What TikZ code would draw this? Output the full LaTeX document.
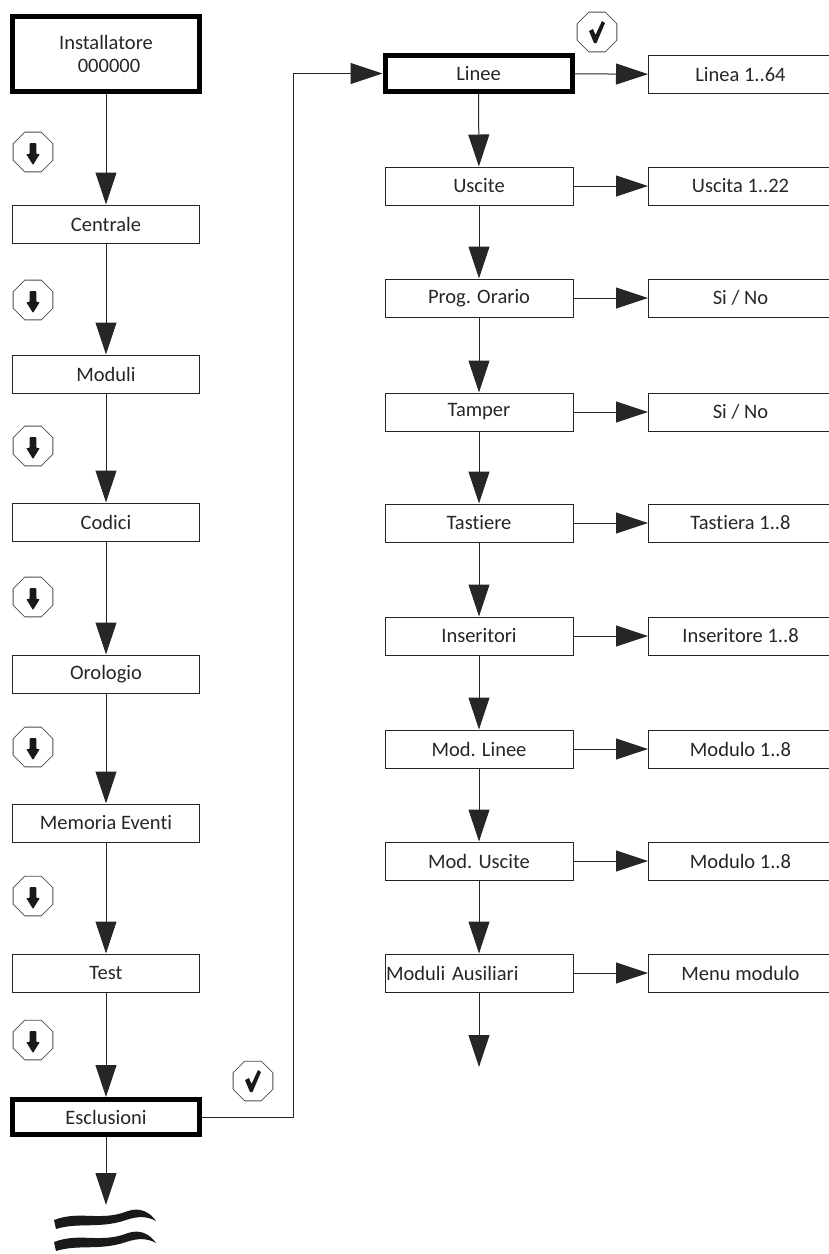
\documentclass[tikz,border=0pt]{standalone}
\usepackage{fontspec}
\setmainfont{Carlito}[Ligatures=NoCommon]
\usetikzlibrary{arrows.meta,shapes.geometric}

\tikzset{
  menu/.style={draw=black!85,line width=1pt,minimum width=187pt,minimum height=38pt,
    inner sep=0pt,text=black!85,font=\fontsize{20.5}{23}\selectfont},
  menusel/.style={menu,draw=black,line width=5pt,minimum height=36pt},
  leaf/.style={menu,minimum width=184pt,anchor=west},
  key/.style={draw=black!70,line width=0.8pt,regular polygon,regular polygon sides=8,
    minimum size=43pt,inner sep=0pt},
  flow/.style={line width=1pt,draw=black!85,-{Triangle[length=32pt,width=21pt]}},
}

% push-button symbols drawn inside a key node
\newcommand{\downglyph}[1]{%
  \fill[black!90,rounded corners=0.8pt,shift={(#1.center)}] (-3.3,-9) -- (3.3,-9) -- (3.3,2)
    -- (6.8,2) -- (0,13) -- (-6.8,2) -- (-3.3,2) -- cycle;}
\newcommand{\okglyph}[1]{%
  \fill[black!90,shift={(#1.center)}] (-8,-1) -- (-4,-3) -- (-1.5,3) -- (5,-11)
    -- (8,-9) -- (-0.5,11) -- (-3,11) -- cycle;}

\begin{document}
\begin{tikzpicture}[x=1pt,y=-1pt]
  \useasboundingbox (0,0) rectangle (828,1254);

  % main menu
  \node[menusel,minimum height=75pt,align=center] (inst) at (106,54) {Installatore\\ \hspace*{6pt}000000};
  \node[menu] (centrale) at (106,224) {Centrale};
  \node[menu] (moduli)   at (106,374) {Moduli};
  \node[menu] (codici)   at (106,522) {Codici};
  \node[menu] (orologio) at (106,674) {Orologio};
  \node[menu] (memoria)  at (106,823) {Memoria Eventi};
  \node[menu] (test)     at (106,973) {Test};
  \node[menusel,minimum height=35pt] (escl) at (106,1117) {Esclusioni};
  \coordinate (more) at (106,1205);

  \draw[flow] (inst) -- (centrale);
  \draw[flow] (centrale) -- (moduli);
  \draw[flow] (moduli) -- (codici);
  \draw[flow] (codici) -- (orologio);
  \draw[flow] (orologio) -- (memoria);
  \draw[flow] (memoria) -- (test);
  \draw[flow] (test) -- (escl);
  \draw[flow] (escl) -- (more);

  \node[key] (k1) at (33,152) {};  \downglyph{k1}
  \node[key] (k2) at (33,300) {};  \downglyph{k2}
  \node[key] (k3) at (33,446) {};  \downglyph{k3}
  \node[key] (k4) at (33,597) {};  \downglyph{k4}
  \node[key] (k5) at (33,747) {};  \downglyph{k5}
  \node[key] (k6) at (33,896) {};  \downglyph{k6}
  \node[key] (k7) at (33,1040) {}; \downglyph{k7}

  % continues below
  \fill[black!90] (54,1220) .. controls (80,1210) and (100,1222) .. (128,1211)
    .. controls (140,1207) and (150,1212) .. (156,1221)
    .. controls (147,1216) and (138,1216) .. (126,1220)
    .. controls (100,1229) and (78,1222) .. (56,1229) -- cycle;
  \fill[black!90] (54,1242) .. controls (80,1232) and (100,1244) .. (128,1233)
    .. controls (140,1229) and (150,1234) .. (156,1243)
    .. controls (147,1238) and (138,1238) .. (126,1242)
    .. controls (100,1251) and (78,1244) .. (56,1251) -- cycle;

  % Esclusioni submenu
  \node[menusel] (linee)     at (478.5,73.5) {Linee};
  \node[menu,minimum width=188pt] (uscite)    at (479,186) {Uscite};
  \node[menu,minimum width=188pt] (orario)    at (479,298) {Prog. Orario};
  \node[menu,minimum width=188pt] (tamper)    at (479,412) {Tamper};
  \node[menu,minimum width=188pt] (tastiere)  at (479,523) {Tastiere};
  \node[menu,minimum width=188pt] (insert)    at (479,636) {Inseritori};
  \node[menu,minimum width=188pt] (modlinee)  at (479,749) {Mod. Linee};
  \node[menu,minimum width=188pt] (moduscite) at (479,861) {Mod. Uscite};
  \node[menu,text width=186pt,align=left,inner xsep=1pt] (modaux) at (479,973) {Moduli Ausiliari};
  \coordinate (next) at (479,1067);

  \draw[flow] (linee) -- (uscite);
  \draw[flow] (uscite) -- (orario);
  \draw[flow] (orario) -- (tamper);
  \draw[flow] (tamper) -- (tastiere);
  \draw[flow] (tastiere) -- (insert);
  \draw[flow] (insert) -- (modlinee);
  \draw[flow] (modlinee) -- (moduscite);
  \draw[flow] (moduscite) -- (modaux);
  \draw[flow] (modaux) -- (next);

  \coordinate (bend) at (293,1117);
  \draw[flow] (escl) -- (bend) |- (linee);

  \node[key] (ok1) at (253,1081) {}; \okglyph{ok1}
  \node[key] (ok2) at (597,32) {};   \okglyph{ok2}

  % values
  \node[leaf] (lin)  at (648,74.5) {Linea 1..64};
  \node[leaf] (usc)  at (648,186) {Uscita 1..22};
  \node[leaf] (osn)  at (648,298) {Si / No};
  \node[leaf] (tsn)  at (648,412) {Si / No};
  \node[leaf] (tas)  at (648,523) {Tastiera 1..8};
  \node[leaf] (ins)  at (648,636) {Inseritore 1..8};
  \node[leaf] (mlin) at (648,749) {Modulo 1..8};
  \node[leaf] (musc) at (648,861) {Modulo 1..8};
  \node[leaf] (maux) at (648,973) {Menu modulo};

  \draw[flow] (linee) -- (lin);
  \draw[flow] (uscite) -- (usc);
  \draw[flow] (orario) -- (osn);
  \draw[flow] (tamper) -- (tsn);
  \draw[flow] (tastiere) -- (tas);
  \draw[flow] (insert) -- (ins);
  \draw[flow] (modlinee) -- (mlin);
  \draw[flow] (moduscite) -- (musc);
  \draw[flow] (modaux) -- (maux);
\end{tikzpicture}
\end{document}
